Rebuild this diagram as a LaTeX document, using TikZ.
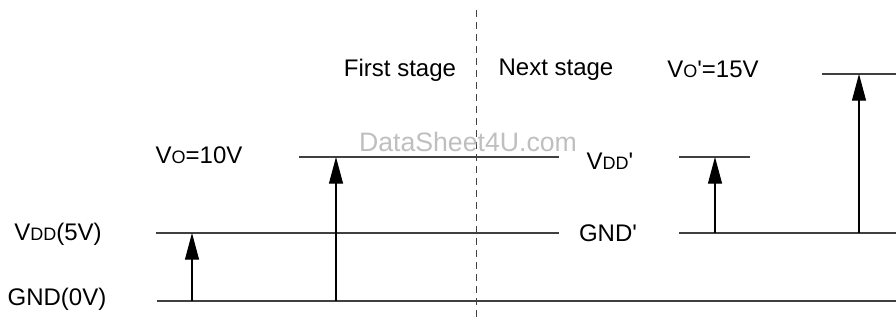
\documentclass[tikz,border=0pt]{standalone}
\usepackage{fontspec}
\setmainfont{Liberation Sans}
\usetikzlibrary{arrows.meta}
\newcommand{\lowcap}[1]{{\fontsize{13.5}{14}\selectfont #1}}

\begin{document}
\begin{tikzpicture}[
    x=0.75pt, y=-0.75pt,
    level/.style={line width=0.8pt, black!75},
    rise/.style={line width=0.8pt, black, -{Triangle[length=20pt, width=10.5pt]}},
    levtext/.style={inner sep=0pt, font=\fontsize{18}{20}\selectfont},
    border/.style={dash pattern=on 5pt off 4pt, line width=0.75pt, black!75},
]
\useasboundingbox (0,0) rectangle (896,320);

% --- Stage border ---
\coordinate (bordtop) at (476,10);
\coordinate (bordbot) at (476,320);
\draw[border] (bordtop) -- (bordbot);

% --- First stage levels ---
\coordinate (gnd0a) at (157,301);
\coordinate (gnd0b) at (896,301);
\coordinate (vdd5a) at (156,233);
\coordinate (vdd5b) at (559,233);
\coordinate (vo10a) at (299,157);
\coordinate (vo10b) at (559,157);
\draw[level] (gnd0a) -- (gnd0b);
\draw[level] (vdd5a) -- (vdd5b);
\draw[level] (vo10a) -- (vo10b);

% --- Next stage levels ---
\coordinate (gndpa) at (679,233);
\coordinate (gndpb) at (896,233);
\coordinate (vddpa) at (679,157);
\coordinate (vddpb) at (750,157);
\coordinate (vo15a) at (822,74);
\coordinate (vo15b) at (896,74);
\draw[level] (gndpa) -- (gndpb);
\draw[level] (vddpa) -- (vddpb);
\draw[level] (vo15a) -- (vo15b);

% --- Voltage arrows ---
\coordinate (up1foot) at (192,301);
\coordinate (up1tip) at (192,233);
\coordinate (up2foot) at (336,301);
\coordinate (up2tip) at (336,157);
\coordinate (up3foot) at (715,233);
\coordinate (up3tip) at (715,157);
\coordinate (up4foot) at (859,233);
\coordinate (up4tip) at (859,74);
\draw[rise] (up1foot) -- (up1tip);
\draw[rise] (up2foot) -- (up2tip);
\draw[rise] (up3foot) -- (up3tip);
\draw[rise] (up4foot) -- (up4tip);

% --- Labels ---
\node[levtext] (gnd0) at (57,299) {GND(0V)};
\node[levtext] (vdd5) at (58,234) {V\lowcap{DD}(5V)};
\node[levtext] (vo10) at (199,155) {V\lowcap{O}=10V};
\node[levtext] (first) at (400,70) {First stage};
\node[levtext] (next) at (556,70) {Next stage};
\node[levtext] (vo15) at (713,69) {V\lowcap{O}\textquotesingle=15V};
\node[levtext] (vddp) at (610,161) {V\lowcap{DD}\textquotesingle};
\node[levtext] (gndp) at (608,233) {GND\textquotesingle};

% --- Watermark ---
\node[inner sep=0pt, font=\fontsize{20}{22}\selectfont, text=black!25] (mark) at (468,142) {DataSheet4U.com};

\end{tikzpicture}
\end{document}
